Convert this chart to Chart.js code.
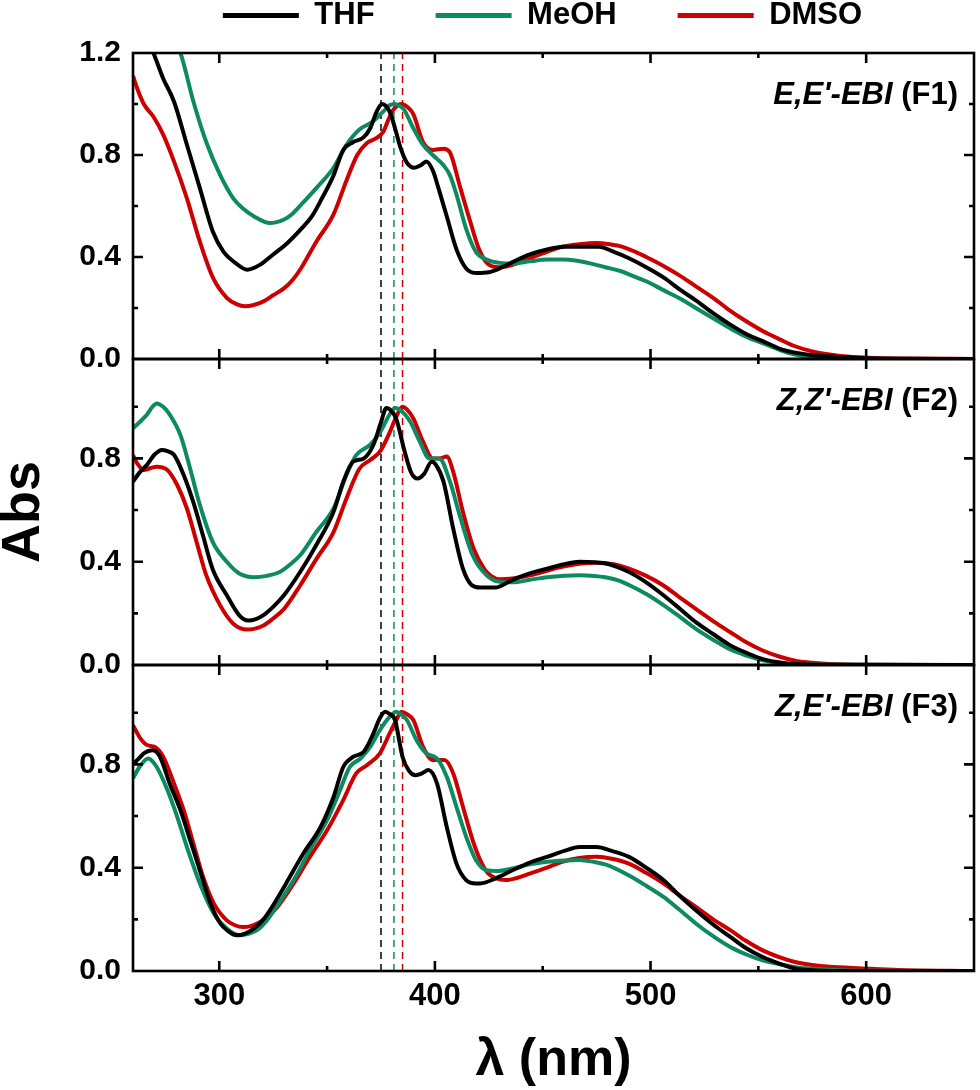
<!DOCTYPE html>
<html>
<head>
<meta charset="utf-8">
<script src="https://cdn.jsdelivr.net/npm/chart.js@4.4.1/dist/chart.umd.min.js"></script>
<style>
  html, body { margin: 0; padding: 0; background: #fff; }
  #wrap { width: 980px; height: 1090px; position: relative; }
</style>
</head>
<body>
<div id="wrap"><canvas id="chart"></canvas></div>
<script>
// 溶媒と色
const solvents = ["THF", "MeOH", "DMSO"];
const solventColors = ["#000000", "#0e8a62", "#cc0000"];

// パネル
const panelNames = ["E,E'-EBI", "Z,Z'-EBI", "Z,E'-EBI"];
const panelTags = ["(F1)", "(F2)", "(F3)"];
const panelMax = [1.2, 1.185, 1.185];
const axisIds = ["yF1", "yF2", "yF3"];

// 目盛り
const xMajor = [300, 400, 500, 600];
const xMinor = [350, 450, 550];
const yMajor = [0, 0.4, 0.8, 1.2];
const yMinor = [0.2, 0.6, 1.0];

// 吸収極大 (破線)
const peakNm = [375, 381, 385];

// F1 スペクトル [nm, Abs]
const thfF1 = [[260,1.38],[265,1.29],[269.5,1.2],[274,1.1],[279,1.01],[285,0.84],[291,0.67],[297,0.5],[302,0.42],[307,0.38],[313,0.35],[319,0.37],[325,0.41],[331,0.45],[338,0.51],[343,0.56],[347,0.62],[353,0.72],[357.5,0.82],[362,0.85],[367,0.87],[370,0.905],[373,0.97],[375.5,1.0],[377.5,0.99],[379.5,0.96],[382,0.89],[384,0.83],[387,0.77],[390.5,0.75],[393.5,0.76],[396,0.775],[399,0.74],[402,0.66],[405.5,0.56],[410,0.43],[414.5,0.355],[419.5,0.337],[425,0.34],[430,0.355],[436,0.38],[444,0.41],[452,0.43],[460,0.44],[468,0.44],[476,0.44],[483,0.42],[490,0.395],[498,0.36],[506,0.32],[514,0.27],[521,0.23],[529,0.18],[537,0.135],[545,0.095],[552,0.07],[560,0.04],[567,0.025],[575,0.015],[583,0.01],[600,0.003],[650,0]];
const meohF1 = [[260,1.62],[265,1.5],[270,1.4],[276,1.29],[282,1.2],[288,1.01],[294,0.85],[300.5,0.72],[306.5,0.63],[311,0.59],[316,0.56],[323.5,0.533],[330,0.547],[334,0.57],[338,0.605],[345,0.67],[353,0.75],[359,0.84],[365,0.9],[371,0.93],[376,0.97],[379,0.995],[381,1.0],[383,0.995],[385.5,0.98],[390,0.905],[394.5,0.84],[399,0.8],[404,0.76],[407,0.72],[410,0.645],[414.5,0.51],[419,0.42],[424,0.39],[430,0.377],[436,0.375],[444,0.383],[452,0.39],[459,0.39],[466,0.385],[472,0.375],[479,0.36],[486,0.345],[492,0.325],[498,0.305],[506,0.27],[513,0.24],[521,0.2],[529,0.16],[538,0.115],[545,0.085],[552,0.062],[560,0.035],[567,0.017],[575,0.005],[590,0.001],[650,0]];
const dmsoF1 = [[260,1.11],[262,1.06],[265,1.0],[269.5,0.95],[274,0.88],[279,0.775],[285,0.63],[291,0.46],[297,0.32],[303.5,0.24],[308,0.215],[312,0.207],[316,0.212],[320.5,0.226],[325,0.25],[330,0.277],[334,0.31],[338,0.357],[345,0.46],[353,0.567],[359,0.7],[364,0.8],[368.5,0.847],[373,0.867],[376,0.89],[379,0.95],[381,0.98],[384.5,1.0],[387,0.99],[390,0.96],[394.5,0.85],[399,0.82],[404,0.825],[407,0.81],[411.5,0.68],[416,0.55],[420.5,0.43],[425,0.37],[430,0.36],[433,0.363],[438,0.375],[444,0.395],[452,0.42],[459,0.44],[467,0.45],[475,0.455],[481,0.45],[487,0.44],[493,0.42],[498,0.4],[506,0.365],[513,0.33],[521,0.285],[529,0.24],[536,0.195],[544,0.15],[552,0.11],[560,0.077],[567,0.05],[575,0.03],[583,0.018],[591,0.01],[605,0.004],[620,0.002],[650,0]];

// F2 スペクトル
const thfF2 = [[260,0.71],[263,0.745],[266.5,0.775],[270,0.815],[273.5,0.833],[276,0.828],[279,0.814],[283.5,0.736],[288,0.63],[292.5,0.5],[297,0.37],[303.5,0.27],[309.5,0.19],[313.5,0.172],[317,0.178],[320.5,0.193],[325,0.225],[330,0.27],[337.5,0.36],[345,0.465],[353,0.593],[357.5,0.71],[362,0.787],[367,0.8],[371.5,0.853],[375,0.94],[377.5,0.995],[379,0.99],[382,0.955],[386,0.826],[389,0.745],[392,0.722],[395,0.74],[398.5,0.787],[400.5,0.775],[404,0.71],[408.5,0.528],[413,0.373],[417,0.31],[421,0.3],[428,0.3],[436,0.33],[444,0.355],[452,0.373],[460,0.39],[467,0.4],[474,0.398],[480,0.392],[490,0.36],[498,0.32],[506,0.27],[514,0.215],[521,0.166],[529,0.12],[537,0.076],[545,0.045],[552,0.023],[560,0.01],[567,0.004],[580,0.001],[650,0]];
const meohF2 = [[260,0.917],[263,0.94],[266.5,0.97],[269,1.0],[271,1.013],[274,1.0],[277,0.97],[282,0.89],[286.5,0.76],[291,0.62],[297,0.476],[303.5,0.4],[309.5,0.353],[316,0.34],[322,0.345],[328,0.36],[333,0.39],[337.5,0.425],[345,0.515],[353,0.606],[359,0.736],[363.5,0.813],[370,0.853],[374.5,0.9],[379,0.97],[381.5,0.995],[383.5,0.99],[388.5,0.943],[393,0.865],[397.5,0.8],[402,0.8],[407,0.71],[411.5,0.58],[417.5,0.425],[424,0.347],[430,0.322],[436,0.32],[444,0.33],[452,0.34],[460,0.346],[467,0.348],[474,0.345],[479,0.34],[485,0.328],[490,0.31],[498,0.275],[506,0.232],[513,0.19],[521,0.14],[529,0.098],[537,0.06],[545,0.035],[552,0.018],[560,0.008],[567,0.002],[650,0]];
const dmsoF2 = [[260,0.813],[262,0.78],[265,0.755],[268,0.762],[271,0.768],[273.5,0.765],[276,0.755],[280.5,0.697],[285,0.606],[289.5,0.476],[294,0.347],[300.5,0.23],[306.5,0.16],[313,0.137],[320.5,0.153],[325,0.18],[330,0.217],[337.5,0.308],[345,0.41],[353,0.515],[359,0.645],[365,0.76],[370,0.794],[374.5,0.826],[379,0.9],[382,0.96],[385,1.0],[387,0.99],[390,0.955],[394.5,0.865],[399,0.8],[402,0.8],[405.5,0.807],[408.5,0.748],[413,0.593],[418,0.45],[423,0.37],[426,0.345],[430,0.332],[436,0.335],[444,0.347],[452,0.365],[459,0.38],[467,0.392],[475,0.396],[483,0.39],[490,0.373],[498,0.345],[506,0.308],[513,0.265],[521,0.217],[529,0.17],[537,0.127],[544,0.09],[552,0.056],[560,0.032],[567,0.017],[575,0.009],[583,0.004],[600,0.001],[650,0]];

// F3 スペクトル
const thfF3 = [[260,0.8],[263,0.825],[265,0.843],[269,0.855],[272.5,0.83],[277,0.726],[282,0.623],[286.5,0.507],[291,0.39],[296,0.26],[300.5,0.184],[304,0.155],[308,0.138],[312,0.145],[316,0.164],[320,0.195],[323.5,0.235],[331,0.339],[339,0.455],[347,0.558],[353,0.674],[357.5,0.79],[362,0.829],[367,0.849],[371.5,0.92],[374.5,0.98],[377,1.004],[379,0.995],[381.5,0.972],[385,0.829],[388,0.775],[391,0.758],[394,0.765],[397,0.778],[401,0.726],[405.5,0.558],[410,0.416],[414.5,0.352],[419,0.339],[421,0.339],[428,0.358],[436,0.39],[444,0.42],[452,0.442],[460,0.465],[467,0.48],[475,0.48],[482,0.465],[490,0.442],[498,0.4],[506,0.352],[513,0.295],[521,0.235],[529,0.18],[537,0.132],[544,0.09],[552,0.054],[560,0.028],[567,0.01],[575,0.003],[585,0],[650,0]];
const meohF3 = [[260,0.746],[263,0.79],[267,0.823],[271,0.79],[276,0.7],[280.5,0.597],[285,0.48],[291,0.339],[297.5,0.222],[303.5,0.164],[309.5,0.138],[313,0.143],[317.5,0.158],[322,0.195],[326.5,0.248],[334.5,0.352],[342,0.468],[350,0.584],[356,0.7],[360.5,0.79],[365.5,0.823],[370,0.868],[374.5,0.933],[379,0.984],[382,1.004],[384,0.995],[387,0.972],[391.5,0.894],[396,0.843],[401,0.823],[405.5,0.752],[410,0.636],[414.5,0.52],[419,0.43],[424,0.39],[428.5,0.387],[436,0.397],[444,0.413],[452,0.423],[460,0.428],[467,0.43],[474,0.422],[480,0.41],[490,0.37],[498,0.33],[506,0.287],[513,0.24],[521,0.184],[529,0.135],[537,0.093],[545,0.062],[552,0.041],[560,0.026],[567,0.015],[575,0.009],[583,0.005],[600,0.001],[650,0]];
const dmsoF3 = [[260,0.952],[263.5,0.9],[266.5,0.875],[270,0.868],[274,0.83],[279,0.726],[283.5,0.623],[288,0.494],[292.5,0.364],[297.5,0.261],[303.5,0.196],[307,0.178],[311,0.17],[315,0.175],[319,0.19],[323,0.215],[327,0.248],[334.5,0.339],[342,0.442],[350,0.545],[357.5,0.662],[363.5,0.765],[368.5,0.797],[374.5,0.843],[379,0.92],[382,0.97],[384.5,1.004],[387,0.995],[390,0.972],[394.5,0.868],[399,0.817],[404.5,0.817],[408.5,0.765],[413,0.636],[417.5,0.507],[421,0.43],[424.5,0.38],[428,0.36],[433,0.352],[438,0.36],[444,0.377],[452,0.4],[459,0.423],[467,0.438],[475,0.442],[482,0.435],[490,0.416],[498,0.38],[506,0.339],[513,0.295],[521,0.248],[529,0.2],[537,0.158],[544,0.118],[552,0.08],[560,0.053],[567,0.035],[575,0.023],[583,0.016],[598,0.01],[615,0.004],[650,0]];

const panelSeries = [
  [thfF1, meohF1, dmsoF1],
  [thfF2, meohF2, dmsoF2],
  [thfF3, meohF3, dmsoF3],
];

const FONT = "'Liberation Sans', Arial, Helvetica, sans-serif";
Chart.defaults.font.family = FONT;
Chart.defaults.color = "#000";

// データセットの作成
const datasets = [];
panelSeries.forEach((series, p) => {
  series.forEach((pts, s) => {
    datasets.push({
      label: solvents[s] + " " + panelTags[p],
      data: pts.map(([x, y]) => ({ x: x, y: y })),
      yAxisID: axisIds[p],
      borderColor: solventColors[s],
      backgroundColor: solventColors[s],
      borderWidth: 4,
      pointRadius: 0,
      cubicInterpolationMode: "monotone",
      fill: false,
    });
  });
});
// 破線 (各パネル)
panelMax.forEach((m, p) => {
  peakNm.forEach((nm, s) => {
    datasets.push({
      label: "peak " + solvents[s],
      data: [{ x: nm, y: 0 }, { x: nm, y: m }],
      yAxisID: axisIds[p],
      borderColor: solventColors[s],
      borderWidth: 1.5,
      borderDash: [7, 5],
      pointRadius: 0,
      fill: false,
    });
  });
});

// スケール
const scales = {
  x: {
    type: "linear",
    position: "bottom",
    min: 260,
    max: 650,
    afterBuildTicks: (s) => { s.ticks = xMajor.map((v) => ({ value: v })); },
    afterFit: (s) => { s.height = 119; },
    grid: { display: false, drawTicks: false },
    border: { display: false },
    ticks: { font: { size: 31, weight: "bold" }, padding: 7, autoSkip: false, maxRotation: 0 },
    title: {
      display: true,
      text: "λ (nm)",
      font: { size: 52, weight: "bold", lineHeight: 1 },
      padding: { top: 0, bottom: 3 },
    },
  },
};
axisIds.forEach((id, p) => {
  scales[id] = {
    type: "linear",
    position: "left",
    stack: "abs",
    stackWeight: 1,
    weight: 3 - p,
    min: 0,
    max: panelMax[p],
    afterBuildTicks: (s) => {
      s.ticks = yMajor.filter((v) => v <= panelMax[p] + 1e-9).map((v) => ({ value: v }));
    },
    afterFit: (s) => { s.width = 133; },
    grid: { display: false, drawTicks: false },
    border: { display: false },
    ticks: {
      font: { size: 30, weight: "bold" },
      padding: 12,
      autoSkip: false,
      callback: (v) => Number(v).toFixed(1),
    },
    title: {
      display: p === 1,
      text: "Abs",
      font: { size: 54, weight: "bold", lineHeight: 0.9 },
      padding: 0,
    },
  };
});

// 凡例を少し左へ
const legendShift = {
  id: "legendShift",
  afterLayout(chart) {
    if (chart.legend) {
      chart.legend.left -= 11;
      chart.legend.right -= 11;
    }
  },
};

// 枠と内向き目盛り
const framePlugin = {
  id: "frame",
  afterDatasetsDraw(chart) {
    const ctx = chart.ctx;
    const xs = chart.scales.x;
    const left = chart.chartArea.left;
    const right = chart.chartArea.right;
    ctx.save();
    ctx.strokeStyle = "#000";
    ctx.lineWidth = 2.6;
    axisIds.forEach((id) => {
      const ys = chart.scales[id];
      ctx.strokeRect(left, ys.top, right - left, ys.bottom - ys.top);
      ctx.beginPath();
      [[xMajor, 10], [xMinor, 5]].forEach(([vals, len]) => {
        vals.forEach((v) => {
          const px = xs.getPixelForValue(v);
          ctx.moveTo(px, ys.top);
          ctx.lineTo(px, ys.top + len);
          ctx.moveTo(px, ys.bottom);
          ctx.lineTo(px, ys.bottom - len);
        });
      });
      [[yMajor, 10], [yMinor, 5]].forEach(([vals, len]) => {
        vals.forEach((v) => {
          if (v <= 0 || v >= ys.max) return;
          const py = ys.getPixelForValue(v);
          ctx.moveTo(left, py);
          ctx.lineTo(left + len, py);
          ctx.moveTo(right, py);
          ctx.lineTo(right - len, py);
        });
      });
      ctx.stroke();
    });
    ctx.restore();
  },
};

// パネル名
const labelPlugin = {
  id: "panelLabels",
  afterDraw(chart) {
    const ctx = chart.ctx;
    const right = chart.chartArea.right - 16;
    ctx.save();
    ctx.fillStyle = "#000";
    ctx.textAlign = "left";
    ctx.textBaseline = "alphabetic";
    axisIds.forEach((id, p) => {
      const base = chart.scales[id].top + 51;
      const tag = " " + panelTags[p];
      ctx.font = "bold 31px " + FONT;
      const wTag = ctx.measureText(tag).width;
      ctx.fillText(tag, right - wTag, base);
      ctx.font = "italic bold 31px " + FONT;
      const wName = ctx.measureText(panelNames[p]).width;
      ctx.fillText(panelNames[p], right - wTag - wName, base);
    });
    ctx.restore();
  },
};

new Chart(document.getElementById("chart"), {
  type: "line",
  data: { datasets: datasets },
  options: {
    responsive: true,
    maintainAspectRatio: false,
    animation: false,
    layout: { padding: { top: -61, right: 6, bottom: 0, left: 0 } },
    plugins: {
      tooltip: { enabled: false },
      title: {
        display: true,
        text: "",
        weight: 1,
        padding: 0,
        font: { size: 12, lineHeight: 1 },
      },
      legend: {
        display: true,
        position: "top",
        fullSize: false,
        align: "center",
        labels: {
          boxWidth: 76,
          boxHeight: 5,
          padding: 61,
          font: { size: 31, weight: "bold" },
          generateLabels: () =>
            solvents.map((name, i) => ({
              text: name,
              fillStyle: solventColors[i],
              strokeStyle: solventColors[i],
              lineWidth: 0,
              hidden: false,
              datasetIndex: i,
              fontColor: "#000",
            })),
        },
      },
    },
    scales: scales,
  },
  plugins: [legendShift, framePlugin, labelPlugin],
});
</script>
</body>
</html>
